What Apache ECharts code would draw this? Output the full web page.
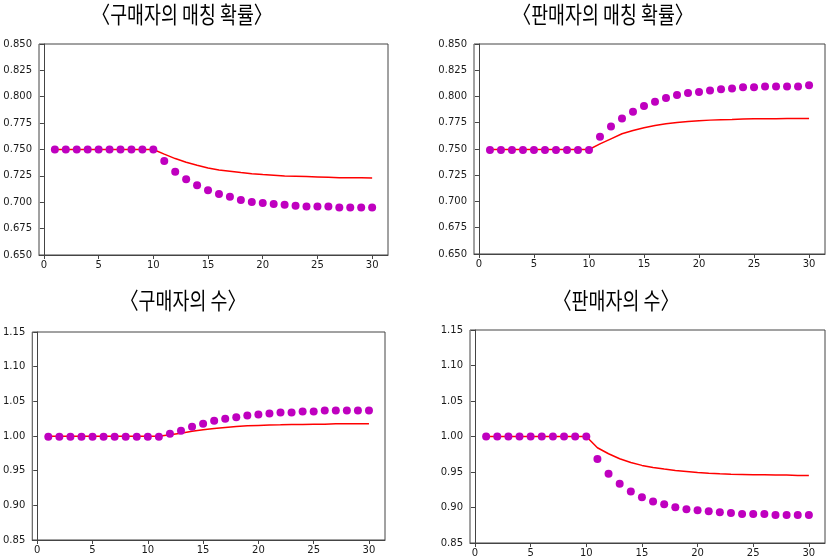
<!DOCTYPE html>
<html>
<head>
<meta charset="utf-8">
<script src="https://cdn.jsdelivr.net/npm/echarts@6/dist/echarts.min.js"></script>
<style>
html,body{margin:0;padding:0;background:#fff;}
#c{width:827px;height:558px;}
</style>
</head>
<body>
<div id="c"></div>
<script>
const periods = [1,2,3,4,5,6,7,8,9,10,11,12,13,14,15,16,17,18,19,20,21,22,23,24,25,26,27,28,29,30];
const xTicks = [0,5,10,15,20,25,30];

const titles = ['〈구매자의 매칭 확률〉','〈판매자의 매칭 확률〉','〈구매자의 수〉','〈판매자의 수〉'];

const buyerMatchDots = [0.750,0.750,0.750,0.750,0.750,0.750,0.750,0.750,0.750,0.750,
  0.7392,0.7290,0.7217,0.7160,0.7113,0.7078,0.7052,0.7021,0.7002,0.6992,
  0.6983,0.6976,0.6967,0.6960,0.6960,0.6960,0.6951,0.6951,0.6951,0.6951];
const buyerMatchLine = [0.750,0.750,0.750,0.750,0.750,0.750,0.750,0.750,0.750,0.750,
  0.7456,0.7414,0.7379,0.7351,0.7325,0.7306,0.7294,0.7281,0.7271,0.7262,
  0.7256,0.7249,0.7246,0.7243,0.7240,0.7237,0.7233,0.7233,0.7233,0.7230];

const sellerMatchDots = [0.749,0.749,0.749,0.749,0.749,0.749,0.749,0.749,0.749,0.749,
  0.7616,0.7715,0.7791,0.7855,0.7909,0.7950,0.7985,0.8014,0.8033,0.8042,
  0.8058,0.8068,0.8077,0.8087,0.8087,0.8096,0.8096,0.8096,0.8096,0.8106];
const sellerMatchLine = [0.7495,0.7495,0.7495,0.7495,0.7495,0.7495,0.7495,0.7495,0.7495,0.7495,
  0.7549,0.7597,0.7645,0.7676,0.7702,0.7724,0.7740,0.7753,0.7762,0.7769,
  0.7775,0.7778,0.7781,0.7785,0.7788,0.7788,0.7788,0.7791,0.7791,0.7791];

const buyerCountDots = [0.999,0.999,0.999,0.999,0.999,0.999,0.999,0.999,0.999,0.999,
  0.999,1.0031,1.0075,1.0132,1.0176,1.0219,1.0248,1.0272,1.0296,1.0311,
  1.0325,1.0339,1.0339,1.0354,1.0354,1.0368,1.0368,1.0368,1.0368,1.0368];
const buyerCountLine = [0.9995,0.9995,0.9995,0.9995,0.9995,0.9995,0.9995,0.9995,0.9995,0.9995,
  0.9995,1.0017,1.0040,1.0070,1.0089,1.0108,1.0123,1.0137,1.0147,1.0152,
  1.0157,1.0161,1.0166,1.0166,1.0171,1.0171,1.0176,1.0176,1.0176,1.0176];

const sellerCountDots = [1.000,1.000,1.000,1.000,1.000,1.000,1.000,1.000,1.000,1.000,
  0.9682,0.9475,0.9334,0.9225,0.9145,0.9084,0.9046,0.9004,0.8976,0.8962,
  0.8947,0.8933,0.8924,0.8910,0.8910,0.8910,0.8896,0.8896,0.8896,0.8896];
const sellerCountLine = [1.000,1.000,1.000,1.000,1.000,1.000,1.000,1.000,1.000,1.000,
  0.9842,0.9757,0.9687,0.9635,0.9593,0.9564,0.9541,0.9522,0.9508,0.9494,
  0.9484,0.9475,0.9470,0.9466,0.9461,0.9461,0.9456,0.9456,0.9451,0.9451];

const panels = [
  {dots: buyerMatchDots, line: buyerMatchLine, ymin: 0.65, ymax: 0.85, step: 0.025, dec: 3,
   grid: {left: 39, top: 44, width: 349, height: 211}, title: [182, 14]},
  {dots: sellerMatchDots, line: sellerMatchLine, ymin: 0.65, ymax: 0.85, step: 0.025, dec: 3,
   grid: {left: 474, top: 44, width: 351, height: 210}, title: [603, 14]},
  {dots: buyerCountDots, line: buyerCountLine, ymin: 0.85, ymax: 1.15, step: 0.05, dec: 2,
   grid: {left: 31, top: 332, width: 354, height: 208}, title: [183, 300]},
  {dots: sellerCountDots, line: sellerCountLine, ymin: 0.85, ymax: 1.15, step: 0.05, dec: 2,
   grid: {left: 470, top: 330, width: 355, height: 213}, title: [616, 300]}
];

const axisColor = '#444';
const labelFont = {fontFamily: 'DejaVu Sans', fontSize: 10, color: '#1a1a1a'};

const option = {
  backgroundColor: '#fff',
  animation: false,
  grid: [], xAxis: [], yAxis: [], series: [], graphic: []
};

panels.forEach((p, i) => {
  option.grid.push(Object.assign({show: true, borderColor: axisColor, borderWidth: 1, backgroundColor: '#fff'}, p.grid));
  option.xAxis.push({
    type: 'value', gridIndex: i, min: -0.45, max: 31.45,
    axisLine: {show: true, onZero: false, lineStyle: {color: axisColor, width: 1}},
    axisTick: {show: true, inside: false, length: 4, customValues: xTicks, lineStyle: {color: axisColor}},
    axisLabel: Object.assign({show: true, margin: 5, customValues: xTicks, formatter: v => String(v)}, labelFont),
    splitLine: {show: false}
  });
  option.yAxis.push({
    type: 'value', gridIndex: i, min: p.ymin, max: p.ymax, interval: p.step,
    axisLine: {show: true, lineStyle: {color: axisColor, width: 1}},
    axisTick: {show: true, inside: false, length: 4, lineStyle: {color: axisColor}},
    axisLabel: Object.assign({show: true, margin: 7, formatter: v => v.toFixed(p.dec)}, labelFont),
    splitLine: {show: false}
  });
  option.series.push({
    type: 'line', xAxisIndex: i, yAxisIndex: i,
    data: periods.map((x, k) => [x, p.line[k]]),
    showSymbol: false, symbol: 'none', smooth: false,
    lineStyle: {color: '#ff0000', width: 1.5}, z: 2
  });
  option.series.push({
    type: 'scatter', xAxisIndex: i, yAxisIndex: i,
    data: periods.map((x, k) => [x, p.dots[k]]),
    symbol: 'circle', symbolSize: 8,
    itemStyle: {color: '#bf00bf', opacity: 1}, z: 3
  });
  option.graphic.push({
    type: 'text', x: p.title[0], y: p.title[1], scaleX: 0.8, scaleY: 1,
    style: {text: titles[i], fontFamily: 'Noto Sans CJK KR', fontSize: 23, fill: '#000',
            align: 'center', verticalAlign: 'middle'}
  });
});

const chart = echarts.init(document.getElementById('c'), null, {renderer: 'canvas'});
chart.setOption(option);
</script>
</body>
</html>
